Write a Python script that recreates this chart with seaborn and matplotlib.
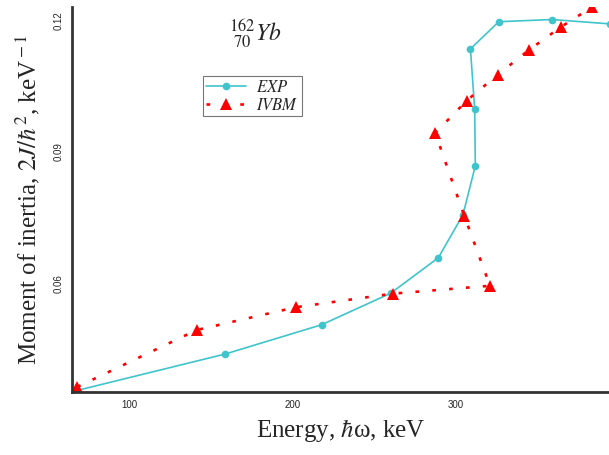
import numpy as np
import pandas as pd
import matplotlib
matplotlib.use("Agg")
import matplotlib.pyplot as plt
import seaborn as sns

exp_energy = [64.8, 158.7, 218.0, 260.4, 289.6, 304.7, 312.3, 311.9, 309.3, 326.7, 359.4, 394.9]
exp_inertia = [0.0352, 0.0438, 0.0505, 0.0577, 0.0658, 0.0756, 0.0868, 0.0998, 0.1135, 0.1197, 0.1202, 0.1192]

# IVBM model values
ivbm_energy = [68.1, 141.4, 202.1, 261.6, 321.3, 305.5, 287.7, 307.1, 326.0, 345.4, 364.8, 384.1]
ivbm_inertia = [0.0363, 0.0493, 0.0545, 0.0576, 0.0594, 0.0754, 0.0943, 0.1017, 0.1076, 0.1133, 0.1185, 0.1231]

x_ticks = [100, 200, 300]
y_ticks = [0.06, 0.09, 0.12]

sns.set_style("white")
plt.rcParams['font.family'] = ['Liberation Sans', 'DejaVu Sans']
plt.rcParams['mathtext.fontset'] = 'stix'

df_exp = pd.DataFrame({"E": exp_energy, "J": exp_inertia})
df_ivbm = pd.DataFrame({"E": ivbm_energy, "J": ivbm_inertia})

fig = plt.figure(figsize=(6.09, 4.55), dpi=100)
ax = fig.add_axes([0.118, 0.139, 0.882, 0.846])

cyan = '#40C4CC'
sns.lineplot(data=df_exp, x="E", y="J", sort=False, estimator=None, ax=ax,
             color=cyan, lw=1.2, marker='o', markersize=5.5, markeredgewidth=0,
             label=r"$EXP$")
sns.lineplot(data=df_ivbm, x="E", y="J", sort=False, estimator=None, ax=ax,
             color='red', lw=1.9, linestyle=(0, (1.4, 5.0)), marker='^',
             markersize=8, markeredgewidth=0, label=r"$IVBM$")

ax.set_xlim(64.8, 394.3)
ax.set_ylim(0.0352, 0.1231)
ax.set_xticks(x_ticks)
ax.set_yticks(y_ticks)
ax.set_xticks([150, 250, 350], minor=True)
ax.set_yticks([0.045, 0.075, 0.105], minor=True)
ax.set_xticklabels([str(v) for v in x_ticks], fontsize=7)
ax.set_yticklabels([f"{v:.2f}" for v in y_ticks], fontsize=7, rotation=90, va='center')
ax.tick_params(which='major', direction='out', length=3, width=1, color='#333333', pad=3)
ax.tick_params(which='minor', direction='out', length=2, width=1, color='#333333')

for side in ['top', 'right']:
    ax.spines[side].set_visible(False)
for side in ['left', 'bottom']:
    ax.spines[side].set_color('#333333')
    ax.spines[side].set_linewidth(2)

ax.set_xlabel(r"Energy, $\hbar$ω, keV", fontsize=18, family='Liberation Serif', labelpad=5)
ax.set_ylabel(r"Moment of inertia, $2J/\hbar^2$, keV$^{\rm -1}$", fontsize=18,
              family='Liberation Serif', labelpad=8)

ax.text(0.341, 0.932, r"$^{162}_{\ 70}Yb$", transform=ax.transAxes, fontsize=17,
        ha='center', va='center')

leg = ax.legend(loc='upper left', bbox_to_anchor=(0.2436, 0.8206), fontsize=12,
                frameon=True, fancybox=False, edgecolor='#777777', framealpha=1,
                borderpad=0.2, labelspacing=0.1, handlelength=2.4, handletextpad=0.6,
                borderaxespad=0)
leg.get_frame().set_linewidth(0.8)

fig.savefig("out.png", dpi=100)
